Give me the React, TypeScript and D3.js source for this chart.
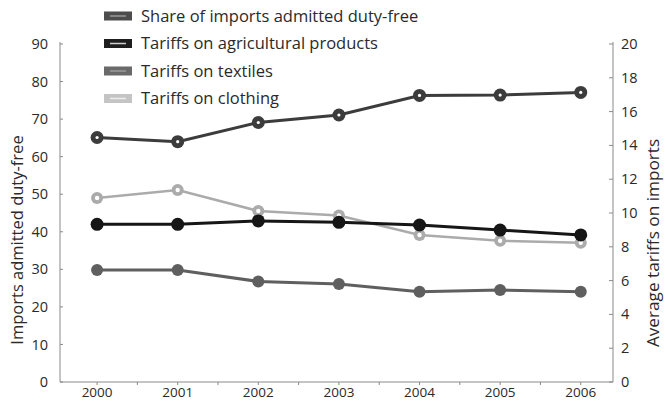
import React from "react";
import * as d3 from "d3";

const years = [2000, 2001, 2002, 2003, 2004, 2005, 2006];
const shareDutyFree = [65.1, 64.0, 69.1, 71.1, 76.3, 76.4, 77.1];
const tariffsAgri = [9.33, 9.33, 9.53, 9.45, 9.29, 8.99, 8.7];
const tariffsTextiles = [6.63, 6.63, 5.95, 5.8, 5.34, 5.44, 5.34];
const tariffsClothing = [10.89, 11.36, 10.12, 9.85, 8.7, 8.36, 8.24];
const leftTicks = [0, 10, 20, 30, 40, 50, 60, 70, 80, 90];
const rightTicks = [0, 2, 4, 6, 8, 10, 12, 14, 16, 18, 20];
const legendLabels = [
  "Share of imports admitted duty-free",
  "Tariffs on agricultural products",
  "Tariffs on textiles",
  "Tariffs on clothing",
];

const W = 665;
const H = 410;
const FONT = "'Open Sans', 'Noto Sans', sans-serif";
const TXT = "#2a2a2a";
const AXIS = "#8a8a8a";

export default function App() {
  const x = d3.scaleLinear().domain([1999.54, 2006.4]).range([60, 613]);
  const yL = d3.scaleLinear().domain([0, 90]).range([382, 44]);
  const yR = d3.scaleLinear().domain([0, 20]).range([382, 44]);

  const series = [
    { name: legendLabels[0], values: shareDutyFree, y: yL, color: "#3c3c3c", width: 3, r: 6.5, hole: 1.6, swatch: "#4d4d4d", inner: "#9a9a9a" },
    { name: legendLabels[1], values: tariffsAgri, y: yR, color: "#161616", width: 3, r: 6.5, hole: 0, swatch: "#1e1e1e", inner: "#d0d0d0" },
    { name: legendLabels[2], values: tariffsTextiles, y: yR, color: "#5f5f5f", width: 3, r: 6, hole: 0, swatch: "#6a6a6a", inner: "#9c9c9c" },
    { name: legendLabels[3], values: tariffsClothing, y: yR, color: "#ababab", width: 2.5, r: 6, hole: 2.2, swatch: "#c4c4c4", inner: "#ececec" },
  ];

  const drawOrder = [3, 0, 2, 1];

  const halfTicks = d3.range(1999.5, 2006.6, 0.5).filter((t) => x(t) >= 60 && x(t) <= 613);

  return (
    <svg
      width={W}
      height={H}
      style={{ position: "absolute", left: 0, top: 0, background: "#fff" }}
      fontFamily={FONT}
    >
      {/* left axis */}
      <line x1={60} x2={60} y1={42} y2={382} stroke={AXIS} strokeWidth={1} />
      {leftTicks.map((t) => (
        <g key={"l" + t}>
          <line x1={60} x2={63} y1={yL(t)} y2={yL(t)} stroke={AXIS} />
          <text x={48} y={yL(t)} dy="0.35em" textAnchor="end" fontSize={14.5} fill={TXT}>
            {t}
          </text>
        </g>
      ))}
      {/* right axis */}
      <line x1={613} x2={613} y1={42} y2={382} stroke={AXIS} strokeWidth={1} />
      {rightTicks.map((t) => (
        <g key={"r" + t}>
          <line x1={609} x2={613} y1={yR(t)} y2={yR(t)} stroke={AXIS} />
          <text x={621} y={yR(t)} dy="0.35em" textAnchor="start" fontSize={14.5} fill={TXT}>
            {t}
          </text>
        </g>
      ))}
      {/* x axis */}
      <line x1={60} x2={613} y1={382} y2={382} stroke={AXIS} strokeWidth={1} />
      {halfTicks.map((t) => (
        <line key={"x" + t} x1={x(t)} x2={x(t)} y1={382} y2={385} stroke={AXIS} />
      ))}
      {years.map((yr) => (
        <text key={"yr" + yr} x={x(yr)} y={397} textAnchor="middle" fontSize={13.5} fill={TXT}>
          {yr}
        </text>
      ))}
      {/* axis titles */}
      <text
        transform={`translate(17,240) rotate(-90)`}
        textAnchor="middle"
        dy="0.35em"
        fontSize={16.5}
        fill={TXT}
      >
        Imports admitted duty-free
      </text>
      <text
        transform={`translate(653,243) rotate(-90)`}
        textAnchor="middle"
        dy="0.35em"
        fontSize={17.2}
        fill={TXT}
      >
        Average tariffs on imports
      </text>

      {/* series */}
      {drawOrder.map((i) => {
        const s = series[i];
        const line = d3
          .line<number>()
          .x((_, k) => x(years[k]))
          .y((v) => s.y(v));
        return (
          <g key={"s" + i}>
            <path d={line(s.values) || ""} fill="none" stroke={s.color} strokeWidth={s.width} />
            {s.values.map((v, k) => (
              <g key={k}>
                <circle cx={x(years[k])} cy={s.y(v)} r={s.r} fill={s.color} />
                {s.hole > 0 && (
                  <circle cx={x(years[k])} cy={s.y(v)} r={s.hole} fill="#fff" />
                )}
              </g>
            ))}
          </g>
        );
      })}

      {/* legend */}
      {series.map((s, i) => {
        const cy = 16 + i * 27.5;
        return (
          <g key={"lg" + i}>
            <rect x={104} y={cy - 4.5} width={28} height={9} fill={s.swatch} />
            <line x1={110} x2={126} y1={cy} y2={cy} stroke={s.inner} strokeWidth={1.5} />
            <text x={141} y={cy} dy="0.35em" fontSize={16.5} fill={TXT}>
              {s.name}
            </text>
          </g>
        );
      })}
    </svg>
  );
}
